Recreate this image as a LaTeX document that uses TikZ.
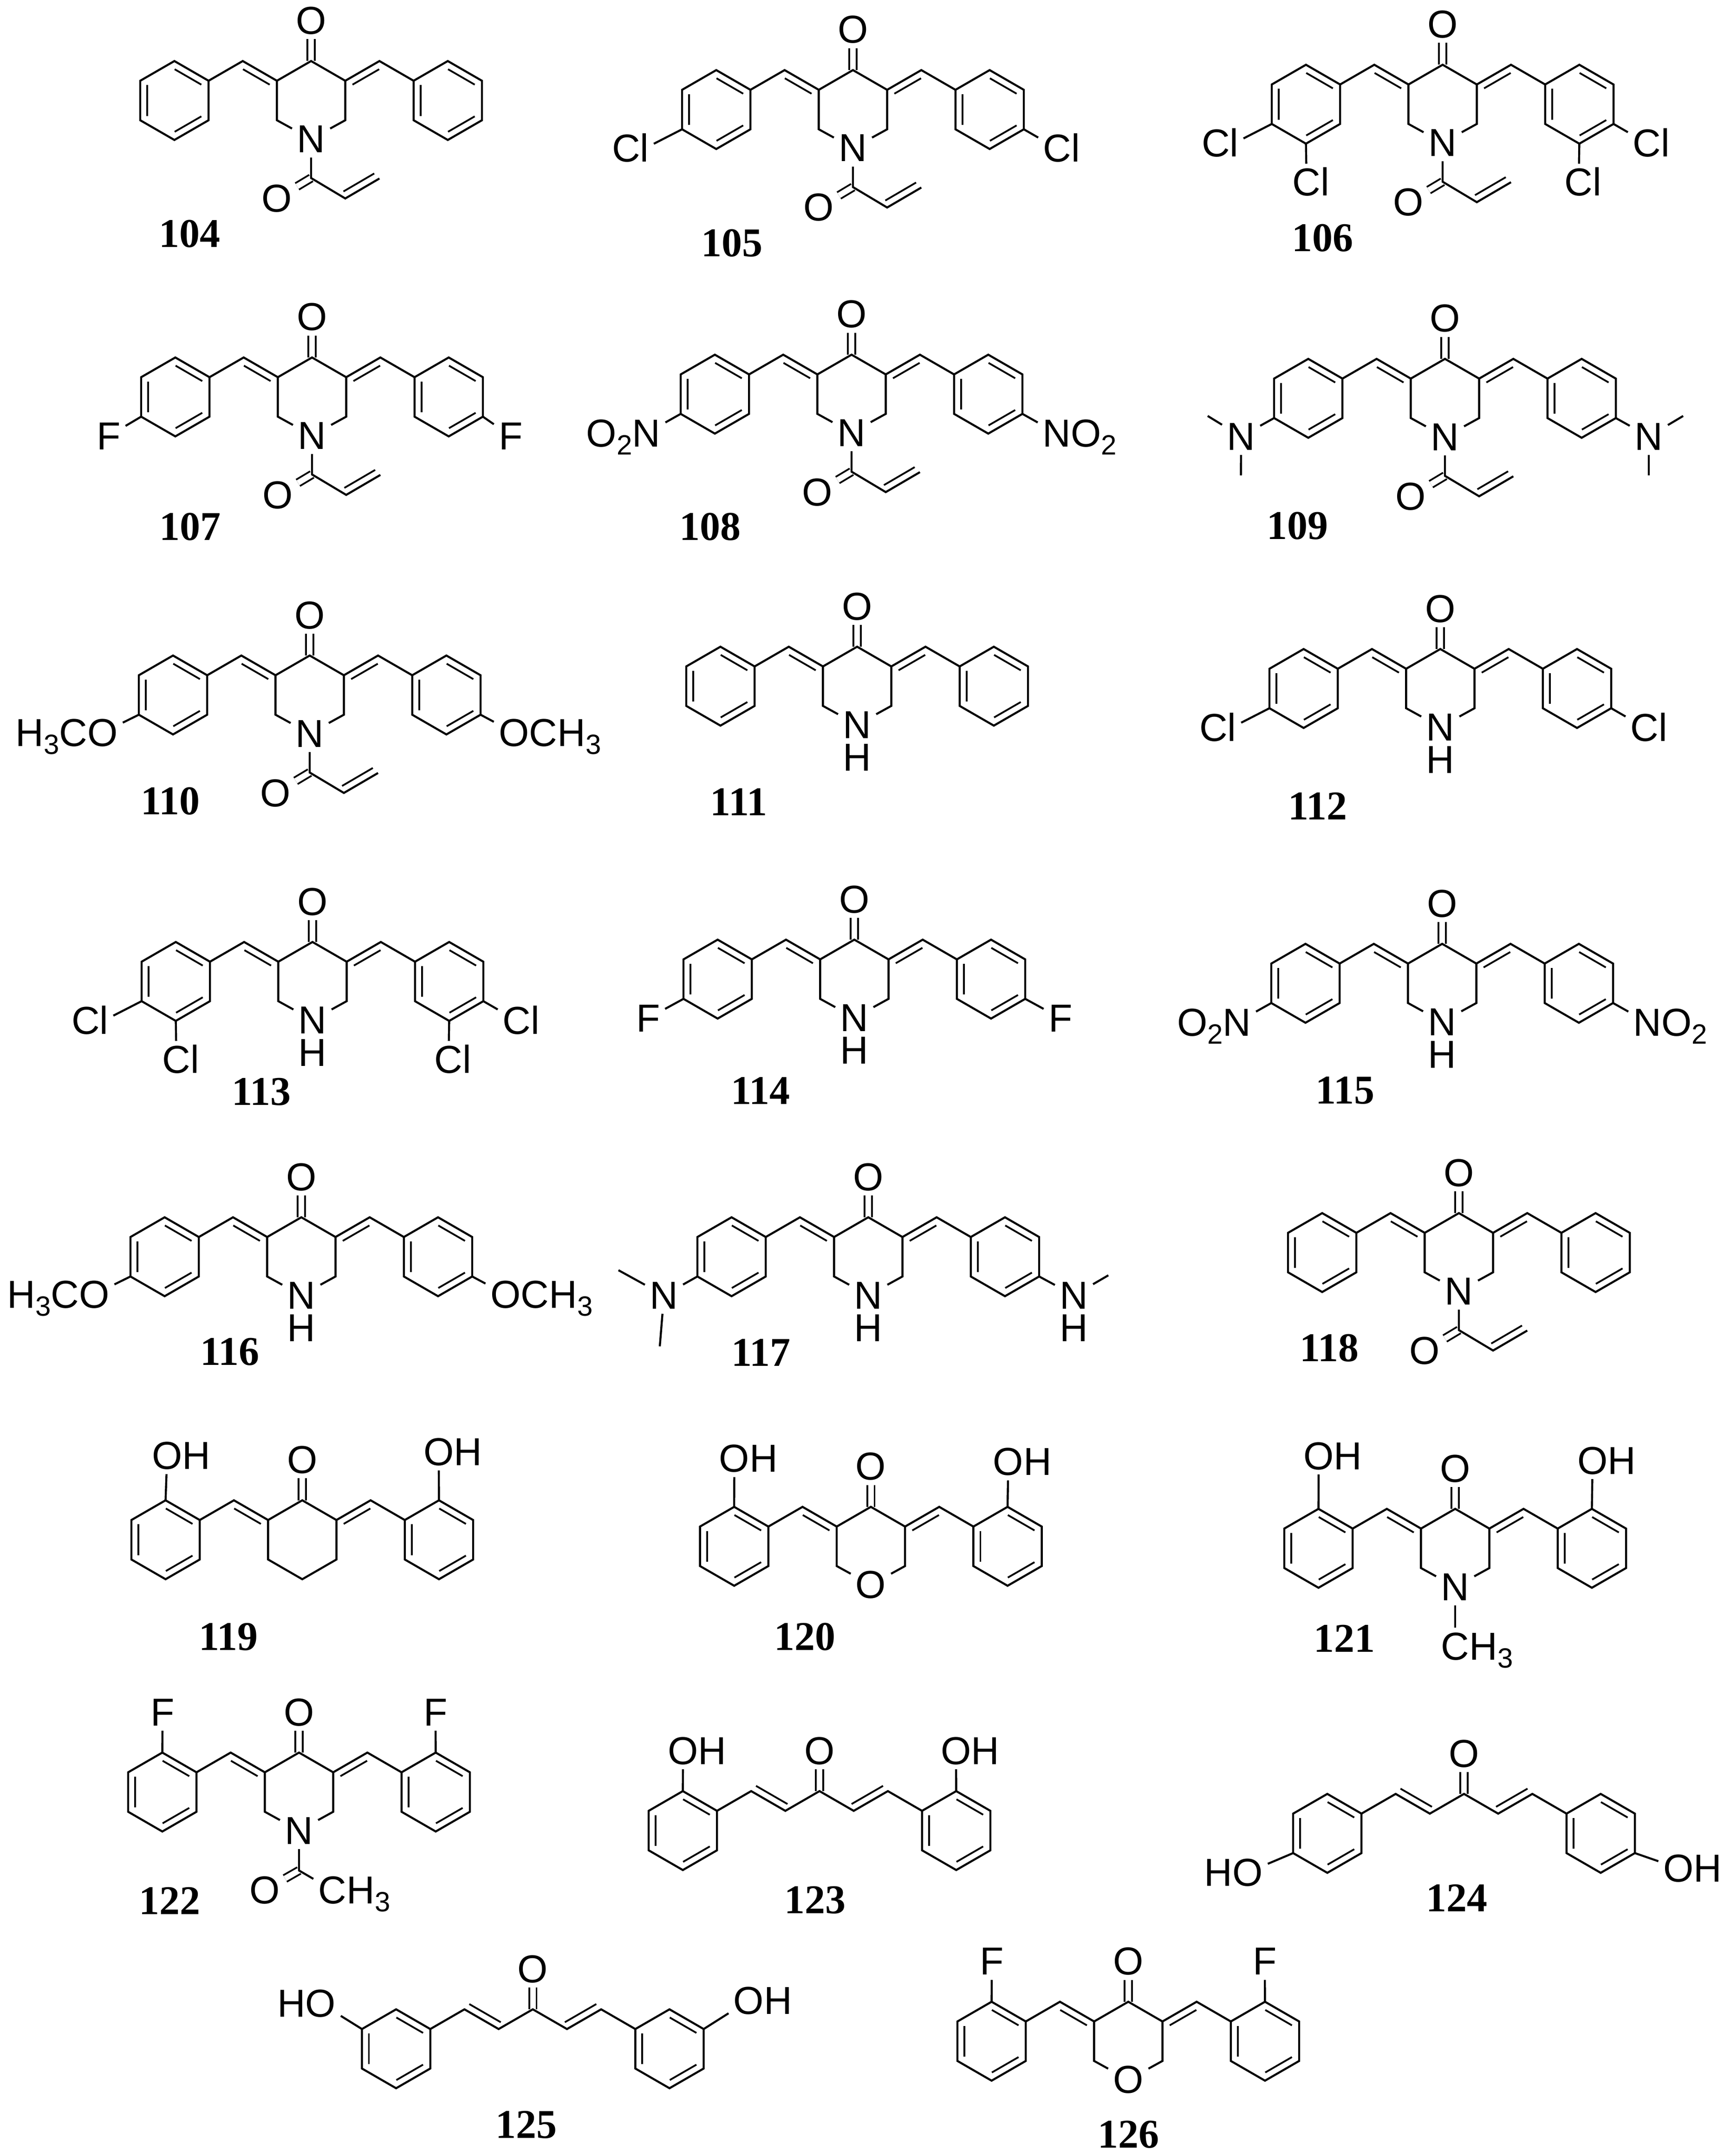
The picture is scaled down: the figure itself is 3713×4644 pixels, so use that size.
\documentclass[tikz,border=0pt]{standalone}
\usepackage{fontspec}
\setmainfont{Liberation Sans}
\newfontfamily\serifbold[BoldFont=Liberation Serif Bold]{Liberation Serif}
\usetikzlibrary{calc,positioning}

\newcommand\lowidx[1]{\raisebox{-4.3pt}{\fontsize{15}{15}\selectfont #1}}
\newcommand\Cll{\llap{C}l}
\newcommand\Clr{C\rlap{l}}
\newcommand\NHd{N\llap{\raisebox{-17.5pt}{H}}}
\newcommand\inbond[4][.11]{\draw[bond,line width=.95pt] ($(#2)!#1!(#3)!3.75pt!#4*90:(#3)$) -- ($(#3)!#1!(#2)!3.75pt!#4*-90:(#2)$);}
\newcommand\subst[4]{\node[atom] (#1) at (#2) {#4}; \draw[bond] (#3) -- (#1);}

\tikzset{
  bond/.style = {line width=1.1pt},
  cdbl/.style = {double, double distance=3pt, line width=.95pt},
  atom/.style = {inner sep=2.5pt, text height=14.5pt, text depth=0pt, font=\fontsize{21}{21}\selectfont},
  tag/.style = {inner sep=0pt, font=\fontsize{22}{22}\selectfont\serifbold\bfseries},
  mol/.style 2 args = {shift={(#2)}, name prefix=m#1-},
  benz/.pic = {
    \coordinate (-t) at (0,-85);
    \coordinate (-tr) at (73.6,-42.5);
    \coordinate (-br) at (73.6,42.5);
    \coordinate (-b) at (0,85);
    \coordinate (-bl) at (-73.6,42.5);
    \coordinate (-tl) at (-73.6,-42.5);
    \draw[bond] (-t) -- (-tr) -- (-br) -- (-b) -- (-bl) -- (-tl) -- cycle;
    \inbond{-t}{-tr}{-1}
    \inbond{-br}{-b}{-1}
    \inbond{-bl}{-tl}{-1}
  }
}

\newcommand\wings{
  \coordinate (c4) at (0,0);
  \coordinate (c3) at (-73.6,42.5);
  \coordinate (c5) at (73.6,42.5);
  \coordinate (hl) at (-147.2,0);
  \coordinate (hr) at (147.2,0);
  \node[atom] (oxo) at (0,-87) {O};
  \draw[cdbl] (c4) -- (oxo);
  \pic (ra) at (-294.4,85) {benz};
  \pic (rb) at (294.4,85) {benz};
  \draw[bond] (ra-tr) -- (hl) -- (c3) -- (c4) -- (c5) -- (hr) -- (rb-tl);
}
\newcommand\ketone{
  \wings
  \inbond{hl}{c3}{-1}
  \inbond{c5}{hr}{-1}
  \coordinate (c2) at (-73.6,127.5);
  \coordinate (c6) at (73.6,127.5);
}
\newcommand\dienone{
  \wings
  \inbond[.04]{hl}{c3}{1}
  \inbond[.04]{c5}{hr}{1}
}
\newcommand\aza[1]{
  \ketone
  \node[atom] (x) at (0,168) {#1};
  \draw[bond] (c3) -- (c2) -- (x);
  \draw[bond] (c5) -- (c6) -- (x);
}
\newcommand\nhring{
  \aza{\NHd}
}
\newcommand\acryl{
  \aza{N}
  \coordinate (ca) at (0,252);
  \node[atom] (oa) at (-73.6,296) {O};
  \coordinate (v1) at (73.6,296);
  \coordinate (v2) at (147.2,253);
  \draw[cdbl] (ca) -- (oa);
  \draw[bond] (x) -- (ca) -- (v1) -- (v2);
  \inbond[.05]{v1}{v2}{1}
}
\newcommand\dicl{
  \subst{sa}{-449,169}{ra-bl}{\Cll}
  \subst{sb}{440,169}{rb-br}{\Clr}
  \subst{sc}{-293,253}{ra-b}{\Clr}
  \subst{sd}{293,253}{rb-b}{\Clr}
}
\newcommand\monocl{
  \subst{sa}{-449,169}{ra-bl}{\Cll}
  \subst{sb}{440,169}{rb-br}{\Clr}
}
\newcommand\paraf{
  \subst{sa}{-444,169}{ra-bl}{F}
  \subst{sb}{444,169}{rb-br}{F}
}
\newcommand\nitro{
  \subst{sa}{-442,169}{ra-bl}{\llap{O\lowidx{2}}N}
  \subst{sb}{442,169}{rb-br}{N\rlap{O\lowidx{2}}}
}
\newcommand\meo{
  \subst{sa}{-446,166}{ra-bl}{\llap{H\lowidx{3}C}O}
  \subst{sb}{440,166}{rb-br}{O\rlap{CH\lowidx{3}}}
}

\begin{document}
\begin{tikzpicture}[x=0.25pt, y=-0.25pt]
  \useasboundingbox (0,0) rectangle (3713,4644);

  \begin{scope}[mol={104}{670,131.5}]
    \acryl
  \end{scope}
  \begin{scope}[mol={105}{1837,151}]
    \acryl
    \monocl
  \end{scope}
  \begin{scope}[mol={106}{3107,139.5}]
    \acryl
    \dicl
  \end{scope}
  \begin{scope}[mol={107}{672,770}]
    \acryl
    \subst{sa}{-438,169}{ra-bl}{F}
    \subst{sb}{428,169}{rb-br}{F}
  \end{scope}
  \begin{scope}[mol={108}{1834,764}]
    \acryl
    \nitro
  \end{scope}
  \begin{scope}[mol={109}{3112,773}]
    \acryl
    \subst{sa}{-439,167}{ra-bl}{N}
    \subst{sb}{439,167}{rb-br}{N}
    \coordinate (ma) at (-511,123);
    \coordinate (mb) at (-439.5,251);
    \coordinate (mc) at (513,123);
    \coordinate (md) at (439,251);
    \draw[bond] (sa) -- (ma);
    \draw[bond] (sa) -- (mb);
    \draw[bond] (sb) -- (mc);
    \draw[bond] (sb) -- (md);
  \end{scope}
  \begin{scope}[mol={110}{667,1412}]
    \acryl
    \meo
  \end{scope}
  \begin{scope}[mol={111}{1846,1393}]
    \nhring
  \end{scope}
  \begin{scope}[mol={112}{3102,1398}]
    \nhring
    \monocl
  \end{scope}
  \begin{scope}[mol={113}{673,2029}]
    \nhring
    \dicl
  \end{scope}
  \begin{scope}[mol={114}{1840,2024}]
    \nhring
    \paraf
  \end{scope}
  \begin{scope}[mol={115}{3106,2033}]
    \nhring
    \nitro
  \end{scope}
  \begin{scope}[mol={116}{649,2622}]
    \nhring
    \meo
  \end{scope}
  \begin{scope}[mol={117}{1870,2622}]
    \nhring
    \subst{sa}{-440,168}{ra-bl}{N}
    \subst{sb}{443,168}{rb-br}{\NHd}
    \coordinate (ma) at (-538,114);
    \coordinate (mb) at (-449,278);
    \coordinate (mc) at (517,125);
    \draw[bond] (sa) -- (ma);
    \draw[bond] (sa) -- (mb);
    \draw[bond] (sb) -- (mc);
  \end{scope}
  \begin{scope}[mol={118}{3142,2613}]
    \acryl
  \end{scope}
  \begin{scope}[mol={119}{651,3231.6}]
    \ketone
    \coordinate (cb) at (0,170);
    \draw[bond] (c3) -- (c2) -- (cb) -- (c6) -- (c5);
    \subst{sa}{-291,-96}{ra-t}{O\rlap{H}}
    \subst{sb}{294,-104}{rb-t}{O\rlap{H}}
  \end{scope}
  \begin{scope}[mol={120}{1875.6,3245.7}]
    \aza{O}
    \subst{sa}{-294,-104}{ra-t}{O\rlap{H}}
    \subst{sb}{296,-97}{rb-t}{O\rlap{H}}
  \end{scope}
  \begin{scope}[mol={121}{3134,3250}]
    \aza{N}
    \subst{sa}{-294,-114}{ra-t}{O\rlap{H}}
    \subst{sb}{296,-104}{rb-t}{O\rlap{H}}
    \subst{me}{0,296}{x}{C\rlap{H\lowidx{3}}}
  \end{scope}
  \begin{scope}[mol={122}{644,3775}]
    \aza{N}
    \subst{sa}{-294,-87}{ra-t}{F}
    \subst{sb}{294,-87}{rb-t}{F}
    \coordinate (ca) at (0,254);
    \node[atom] (oa) at (-73.6,296) {O};
    \node[atom] (me) at (72,296) {C\rlap{H\lowidx{3}}};
    \draw[cdbl] (ca) -- (oa);
    \draw[bond] (x) -- (ca) -- (me);
  \end{scope}
  \begin{scope}[mol={123}{1765,3858}]
    \dienone
    \subst{sa}{-294,-87}{ra-t}{O\rlap{H}}
    \subst{sb}{294,-87}{rb-t}{O\rlap{H}}
  \end{scope}
  \begin{scope}[mol={124}{3153,3864}]
    \dienone
    \subst{sa}{-466,169}{ra-bl}{\llap{H}O}
    \subst{sb}{462,160}{rb-br}{O\rlap{H}}
  \end{scope}
  \begin{scope}[mol={125}{1147.5,4328}]
    \dienone
    \subst{sa}{-457,-13}{ra-tl}{\llap{H}O}
    \subst{sb}{465,-19}{rb-tr}{O\rlap{H}}
  \end{scope}
  \begin{scope}[mol={126}{2430,4311.7}]
    \aza{O}
    \subst{sa}{-294,-87}{ra-t}{F}
    \subst{sb}{294,-87}{rb-t}{F}
  \end{scope}

  \foreach \num/\tx/\ty in {104/408/504, 105/1576/524, 106/2848/513, 107/409/1135, 108/1529/1135,
      109/2794/1133, 110/367/1726, 111/1591/1727, 112/2838/1736, 113/563/2352, 114/1638/2349,
      115/2897/2349, 116/495/2912, 117/1639/2913, 118/2863/2904, 119/492/3526, 120/1733/3526,
      121/2895/3529, 122/365/4094, 123/1755/4093, 124/3137/4088, 125/1133/4577, 126/2430/4598}
    \node[tag] (t\num) at (\tx,\ty) {\num};
\end{tikzpicture}
\end{document}
